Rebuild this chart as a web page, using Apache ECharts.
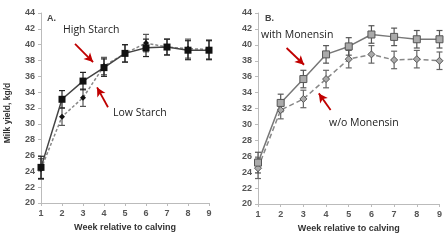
<!DOCTYPE html>
<html>
<head>
<meta charset="utf-8">
<script src="https://cdn.jsdelivr.net/npm/echarts@6/dist/echarts.min.js"></script>
<style>
  html, body { margin: 0; padding: 0; background: #fff; }
  #chart { width: 445px; height: 240px; }
</style>
</head>
<body>
<div id="chart"></div>
<script>
// weeks relative to calving
var weeks = [1, 2, 3, 4, 5, 6, 7, 8, 9];
var yTicks = [20, 22, 24, 26, 28, 30, 32, 34, 36, 38, 40, 42, 44];

// panel A
var highStarch = [24.5, 33.1, 35.4, 37.1, 38.9, 39.6, 39.7, 39.3, 39.3];
var lowStarch  = [24.3, 30.9, 33.3, 37.3, 38.9, 40.2, 39.7, 39.5, 39.4];
var highStarchErr = [1.4, 1.1, 1.1, 1.1, 1.1, 1.1, 1.0, 1.2, 1.2];
var lowStarchErr  = [1.3, 1.1, 1.1, 1.1, 1.1, 1.1, 1.0, 1.2, 1.2];

// panel B
var withMon = [25.2, 32.7, 35.7, 38.8, 39.8, 41.3, 41.0, 40.7, 40.7];
var woMon   = [24.5, 31.8, 33.2, 35.7, 38.2, 38.8, 38.1, 38.2, 38.0];
var withMonErr = [1.3, 1.1, 1.1, 1.1, 1.1, 1.1, 1.1, 1.1, 1.1];
var woMonErr   = [1.3, 1.1, 1.1, 1.1, 1.1, 1.1, 1.1, 1.1, 1.1];

function pairs(vals) {
  return weeks.map(function (w, i) { return [w, vals[i]]; });
}
function errData(vals, errs) {
  return weeks.map(function (w, i) { return [w, vals[i] - errs[i], vals[i] + errs[i]]; });
}
function errSeries(idx, vals, errs, color) {
  return {
    type: 'custom', xAxisIndex: idx, yAxisIndex: idx, z: 3,
    data: errData(vals, errs),
    renderItem: function (params, api) {
      var lo = api.coord([api.value(0), api.value(1)]);
      var hi = api.coord([api.value(0), api.value(2)]);
      var c = 3;
      var st = { stroke: color, lineWidth: 1.2 };
      return {
        type: 'group',
        children: [
          { type: 'line', shape: { x1: lo[0], y1: lo[1], x2: hi[0], y2: hi[1] }, style: st },
          { type: 'line', shape: { x1: lo[0] - c, y1: lo[1], x2: lo[0] + c, y2: lo[1] }, style: st },
          { type: 'line', shape: { x1: hi[0] - c, y1: hi[1], x2: hi[0] + c, y2: hi[1] }, style: st }
        ]
      };
    }
  };
}
function arrowLine(from, to) {
  return {
    silent: true,
    symbol: ['none', 'arrow'],
    symbolSize: [7, 9],
    label: { show: false },
    lineStyle: { color: '#c00000', width: 1.8, type: 'solid' },
    data: [[{ coord: from }, { coord: to }]]
  };
}

var axisLabelStyle = { color: '#555', fontSize: 9, fontWeight: 'bold', fontFamily: 'Liberation Sans' };

function xAxis(idx) {
  return {
    type: 'value', gridIndex: idx, min: 1, max: 9, interval: 1,
    name: 'Week relative to calving', nameLocation: 'middle', nameGap: 20,
    nameTextStyle: { color: '#333', fontSize: 9, fontWeight: 'bold', fontFamily: 'Liberation Sans' },
    axisLine: { lineStyle: { color: '#bbb' } },
    axisTick: { show: true, length: 3, lineStyle: { color: '#bbb' } },
    axisLabel: Object.assign({ margin: 6 }, axisLabelStyle),
    splitLine: { show: false }
  };
}
function yAxis(idx) {
  return {
    type: 'value', gridIndex: idx, min: 20, max: 44, interval: 2,
    axisLine: { show: true, lineStyle: { color: '#bbb' } },
    axisTick: { show: true, length: 3, lineStyle: { color: '#bbb' } },
    axisLabel: Object.assign({ margin: 6 }, axisLabelStyle),
    splitLine: { show: false }
  };
}

var chart = echarts.init(document.getElementById('chart'));
var annoFont = { fontSize: 10.5, fontFamily: 'Open Sans', fill: '#222' };

chart.setOption({
  animation: false,
  grid: [
    { left: 41, right: 236, top: 13, bottom: 37 },
    { left: 258, right: 2, top: 13, bottom: 36 }
  ],
  xAxis: [xAxis(0), xAxis(1)],
  yAxis: [yAxis(0), yAxis(1)],
  graphic: [
    { type: 'text', x: 8, y: 113, rotation: Math.PI / 2,
      style: { text: 'Milk yield, kg/d', fontSize: 8.5, fontWeight: 'bold', fontFamily: 'Liberation Sans', fill: '#333', align: 'center', verticalAlign: 'middle' } },
    { type: 'text', x: 47, y: 14, style: { text: 'A.', fontSize: 9, fontWeight: 'bold', fontFamily: 'Liberation Sans', fill: '#444' } },
    { type: 'text', x: 265, y: 14, style: { text: 'B.', fontSize: 9, fontWeight: 'bold', fontFamily: 'Liberation Sans', fill: '#444' } },
    { type: 'text', x: 63, y: 25, style: Object.assign({ text: 'High Starch' }, annoFont) },
    { type: 'text', x: 113, y: 108, style: Object.assign({ text: 'Low Starch' }, annoFont) },
    { type: 'text', x: 261, y: 30, style: Object.assign({ text: 'with Monensin' }, annoFont) },
    { type: 'text', x: 329, y: 118, style: Object.assign({ text: 'w/o Monensin' }, annoFont) }
  ],
  series: [
    errSeries(0, lowStarch, lowStarchErr, '#555'),
    errSeries(0, highStarch, highStarchErr, '#222'),
    {
      name: 'Low Starch', type: 'line', xAxisIndex: 0, yAxisIndex: 0, z: 4,
      data: pairs(lowStarch),
      symbol: 'diamond', symbolSize: 6,
      lineStyle: { color: '#888', width: 1.5, type: [3, 2] },
      itemStyle: { color: '#111' },
      markLine: arrowLine([4.19, 32.1], [3.67, 34.6])
    },
    {
      name: 'High Starch', type: 'line', xAxisIndex: 0, yAxisIndex: 0, z: 5,
      data: pairs(highStarch),
      symbol: 'rect', symbolSize: 7,
      lineStyle: { color: '#444', width: 1.5 },
      itemStyle: { color: '#111' },
      markLine: arrowLine([2.62, 40.1], [3.48, 37.8])
    },
    errSeries(1, woMon, woMonErr, '#666'),
    errSeries(1, withMon, withMonErr, '#555'),
    {
      name: 'w/o Monensin', type: 'line', xAxisIndex: 1, yAxisIndex: 1, z: 4,
      data: pairs(woMon),
      symbol: 'diamond', symbolSize: 7,
      lineStyle: { color: '#888', width: 1.5, type: [5, 3] },
      itemStyle: { color: '#aaa', borderColor: '#555', borderWidth: 1 },
      markLine: arrowLine([4.2, 31.8], [3.68, 33.9])
    },
    {
      name: 'with Monensin', type: 'line', xAxisIndex: 1, yAxisIndex: 1, z: 5,
      data: pairs(withMon),
      symbol: 'rect', symbolSize: 7,
      lineStyle: { color: '#777', width: 1.5 },
      itemStyle: { color: '#aaa', borderColor: '#555', borderWidth: 1 },
      markLine: arrowLine([2.26, 39.6], [3.03, 37.5])
    }
  ]
});
</script>
</body>
</html>
